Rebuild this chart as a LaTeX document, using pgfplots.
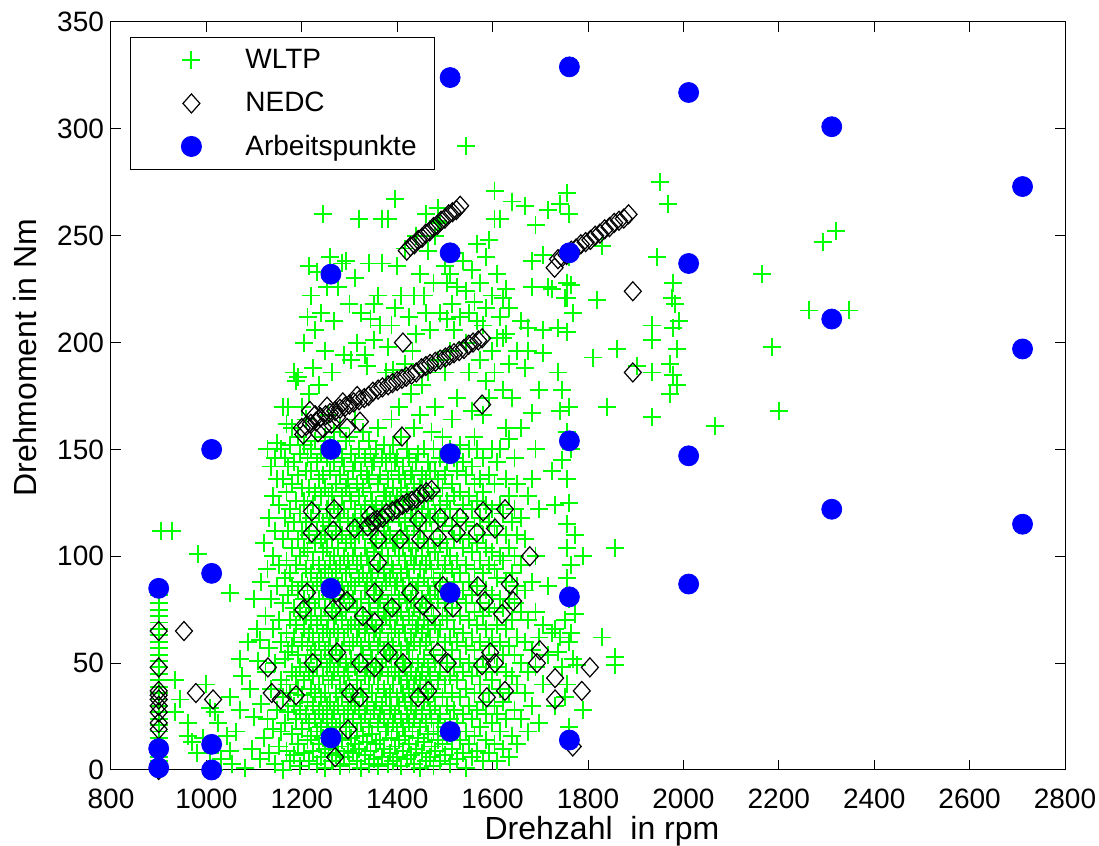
\documentclass[border=0pt]{standalone}
\usepackage{fontspec}
\setmainfont{Liberation Sans}
\usepackage{pgfplots}
\pgfplotsset{compat=1.18}
\definecolor{wgreen}{RGB}{0,255,0}
\definecolor{ablue}{RGB}{0,0,255}
\pgfplotsset{wl/.style={only marks, mark=+, mark size=4.5pt, draw=wgreen, color=wgreen, line width=0.95pt, mark options={draw=wgreen, color=wgreen}},
 wlf/.style={wl, forget plot}}
\begin{document}
\begin{tikzpicture}
\begin{axis}[
 scale only axis, width=477pt, height=374pt,
 xmin=800, xmax=2800, ymin=0, ymax=350,
 xtick={800,1000,...,2800}, ytick={0,50,...,350},
 tick align=inside, major tick length=5pt,
 every tick/.style={black, line width=0.5pt},
 axis line style={line width=0.5pt},
 clip=false,
 /pgf/number format/assume math mode=true,
 /pgf/number format/1000 sep={},
 ticklabel style={font=\fontsize{14}{16}\selectfont},
 xticklabel style={yshift=-6pt},
 xlabel={Drehzahl\ \ in rpm}, ylabel={Drehmoment in Nm},
 label style={font=\fontsize{16}{18}\selectfont},
 xlabel style={at={(axis description cs:0.5147,-0.082)}, anchor=center},
 ylabel style={at={(axis description cs:-0.0901,0.551)}, anchor=center},
 legend style={at={(axis description cs:0.0199,0.98)}, anchor=north west,
   inner xsep=0pt, inner ysep=0.75pt, column sep=0pt, row sep=0pt,
   draw=black, line width=0.5pt, fill=white,
   font=\fontsize{14}{16}\selectfont,
   nodes={inner sep=0pt, text width=94.5pt, align=left, minimum height=21.5pt}},
 legend cell align=left,
 legend image code/.code={\path (0pt,-10pt) (56.5pt,10pt); \draw[#1] plot coordinates {(30pt,0pt)};},
]
\coordinate (SW) at (rel axis cs:0,0);
\coordinate (NE) at (rel axis cs:1,1);
\addplot[wl] coordinates {
(900,0)(900,2)(900,4)(900,6)(900,9)(900,12)(900,15)(900,18)(900,21)(900,24)(900,27)(900,30)(900,33)(900,36)(900,39)(900,42)(900,45)(900,48)(900,51)(900,54)(900,57)(900,60)(900,63)(900,66)(900,69)(900,72)(900,75)(900,78)(900,82)(905,112)(928,112)
(934,42)(934,27)(945,33)(961,22)(961,16)(970,13)(980,8)(982,101)(993,15)(1000,40)(1008,29)(1008,8)(1015,0)(1018,27)(1024,22)(1030,5)(1043,16)(1049,34)(1049,9)(1049,83)(1053,3)(1062,18)(1070,52)(1070,28)(1075,44)(1081,1)(1088,60)(1091,38)(1095,10)(1100,25)(1100,80)(1106,66)(1108,51)
};
\addlegendentry{WLTP}
\addplot[wlf] coordinates {
(1112,5)(1112,61)(1115,31)(1115,88)(1120,15)(1120,106)(1124,46)(1124,72)
(1128,150)(1128,24)(1128,94)(1132,8)(1132,57)(1132,118)(1136,38)(1136,80)(1136,142)
(1140,19)(1140,66)(1140,128)(1140,100)(1144,3)(1144,50)(1144,112)(1144,146)
(1148,28)(1148,86)(1148,136)(1148,153)(1152,11)(1152,70)(1152,96)(1152,124)
(1156,42)(1156,60)(1156,150)(1156,18)
(1160,0)(1160,34)(1160,78)(1160,108)(1160,136)(1160,170)
(1164,22)(1164,52)(1164,90)(1164,118)(1164,146)
(1168,9)(1168,40)(1168,64)(1168,98)(1168,130)(1168,162)
(1172,27)(1172,55)(1172,82)(1172,112)(1172,142)(1172,170)
(1176,4)(1176,36)(1176,70)(1176,92)(1176,122)(1176,152)
(1180,17)(1180,46)(1180,58)(1180,86)(1180,104)(1180,134)(1180,160)
(1184,7)(1184,30)(1184,62)(1184,76)(1184,116)(1184,144)(1184,186)
(1188,24)(1188,44)(1188,68)(1188,96)(1188,126)(1188,182)
};
\addplot[wlf] coordinates {
(1192,12)(1192,38)(1192,54)(1192,84)(1192,108)(1192,138)(1192,156)(1192,184)
(1196,2)(1196,28)(1196,48)(1196,74)(1196,100)(1196,120)(1196,148)
(1200,19)(1200,35)(1200,60)(1200,88)(1200,112)(1200,132)(1200,170)
(1204,8)(1204,42)(1204,66)(1204,80)(1204,104)(1204,126)(1204,152)(1204,200)
(1208,26)(1208,50)(1208,72)(1208,94)(1208,116)(1208,140)(1208,164)
(1212,14)(1212,32)(1212,58)(1212,86)(1212,102)(1212,124)(1212,146)(1212,212)
(1216,4)(1216,22)(1216,46)(1216,64)(1216,78)(1216,110)(1216,132)(1216,176)(1216,236)
(1220,16)(1220,38)(1220,54)(1220,70)(1220,92)(1220,118)(1220,140)(1220,150)(1220,222)
(1224,9)(1224,30)(1224,44)(1224,62)(1224,84)(1224,98)(1224,124)(1224,188)
(1228,24)(1228,36)(1228,56)(1228,76)(1228,106)(1228,130)(1228,154)(1228,206)
(1232,3)(1232,18)(1232,48)(1232,68)(1232,88)(1232,112)(1232,144)(1232,233)
};
\addplot[wlf] coordinates {
(1236,12)(1236,28)(1236,40)(1236,60)(1236,80)(1236,96)(1236,120)(1236,136)(1236,180)
(1240,6)(1240,20)(1240,34)(1240,52)(1240,72)(1240,90)(1240,108)(1240,128)(1240,148)(1240,214)
(1244,15)(1244,26)(1244,44)(1244,64)(1244,84)(1244,102)(1244,116)(1244,138)(1244,260)
(1248,1)(1248,10)(1248,36)(1248,56)(1248,76)(1248,94)(1248,110)(1248,132)(1248,156)(1248,196)
(1252,22)(1252,30)(1252,48)(1252,66)(1252,86)(1252,104)(1252,122)(1252,146)(1252,226)
(1256,8)(1256,18)(1256,40)(1256,58)(1256,70)(1256,92)(1256,114)(1256,128)(1256,166)
(1260,13)(1260,32)(1260,50)(1260,62)(1260,82)(1260,98)(1260,118)(1260,140)(1260,152)(1260,240)
(1264,4)(1264,24)(1264,42)(1264,54)(1264,74)(1264,90)(1264,108)(1264,130)(1264,186)
(1268,16)(1268,28)(1268,46)(1268,66)(1268,80)(1268,100)(1268,124)(1268,144)(1268,158)(1268,210)
(1272,7)(1272,20)(1272,36)(1272,58)(1272,72)(1272,94)(1272,112)(1272,134)
};
\addplot[wlf] coordinates {
(1276,11)(1276,30)(1276,48)(1276,64)(1276,86)(1276,104)(1276,120)(1276,150)(1276,226)
(1280,2)(1280,22)(1280,40)(1280,52)(1280,76)(1280,96)(1280,116)(1280,138)(1280,160)
(1284,14)(1284,34)(1284,56)(1284,70)(1284,88)(1284,110)(1284,128)(1284,146)(1284,237)
(1288,6)(1288,26)(1288,44)(1288,62)(1288,82)(1288,100)(1288,122)(1288,142)(1288,194)
(1292,18)(1292,38)(1292,50)(1292,74)(1292,92)(1292,106)(1292,132)(1292,154)(1292,238)
(1296,9)(1296,28)(1296,46)(1296,66)(1296,84)(1296,98)(1296,118)(1296,136)
(1300,3)(1300,20)(1300,40)(1300,58)(1300,78)(1300,94)(1300,112)(1300,130)(1300,156)(1300,218)
(1304,15)(1304,32)(1304,52)(1304,68)(1304,88)(1304,108)(1304,126)(1304,148)(1304,192)
(1308,8)(1308,24)(1308,36)(1308,60)(1308,80)(1308,100)(1308,116)(1308,140)
(1312,12)(1312,30)(1312,48)(1312,70)(1312,86)(1312,104)(1312,122)(1312,144)(1312,164)(1312,230)
};
\addplot[wlf] coordinates {
(1316,4)(1316,18)(1316,42)(1316,62)(1316,76)(1316,96)(1316,114)(1316,134)(1316,200)
(1320,10)(1320,28)(1320,50)(1320,66)(1320,90)(1320,110)(1320,128)(1320,150)(1320,258)
(1324,1)(1324,22)(1324,38)(1324,58)(1324,80)(1324,98)(1324,120)(1324,140)(1324,214)
(1328,16)(1328,34)(1328,54)(1328,72)(1328,92)(1328,112)(1328,132)(1328,158)
(1332,7)(1332,26)(1332,44)(1332,64)(1332,84)(1332,104)(1332,124)(1332,146)(1332,194)
(1336,13)(1336,30)(1336,48)(1336,68)(1336,88)(1336,100)(1336,118)(1336,138)(1336,189)
(1340,3)(1340,20)(1340,40)(1340,60)(1340,78)(1340,96)(1340,116)(1340,136)(1340,154)(1340,237)
(1344,9)(1344,24)(1344,46)(1344,56)(1344,74)(1344,92)(1344,110)(1344,130)(1344,148)(1344,211)
(1348,17)(1348,36)(1348,52)(1348,70)(1348,90)(1348,108)(1348,126)(1348,142)
(1352,5)(1352,28)(1352,44)(1352,64)(1352,82)(1352,102)(1352,120)(1352,144)(1352,201)(1352,218)
};
\addplot[wlf] coordinates {
(1356,12)(1356,32)(1356,50)(1356,66)(1356,86)(1356,106)(1356,124)(1356,150)
(1360,2)(1360,22)(1360,40)(1360,58)(1360,76)(1360,94)(1360,114)(1360,134)(1360,160)(1360,222)
(1364,14)(1364,26)(1364,46)(1364,62)(1364,80)(1364,98)(1364,118)(1364,138)(1364,208)
(1368,6)(1368,30)(1368,48)(1368,68)(1368,84)(1368,104)(1368,122)(1368,146)(1368,237)(1368,258)
(1372,10)(1372,24)(1372,38)(1372,56)(1372,74)(1372,92)(1372,112)(1372,130)(1372,152)
(1376,18)(1376,34)(1376,52)(1376,72)(1376,88)(1376,108)(1376,128)(1376,144)(1376,186)
(1380,3)(1380,20)(1380,44)(1380,60)(1380,78)(1380,100)(1380,116)(1380,136)(1380,198)(1380,258)
(1384,8)(1384,28)(1384,36)(1384,54)(1384,70)(1384,90)(1384,110)(1384,126)(1384,148)
(1388,15)(1388,30)(1388,48)(1388,64)(1388,82)(1388,96)(1388,120)(1388,140)(1388,164)(1388,208)
(1392,4)(1392,22)(1392,40)(1392,58)(1392,76)(1392,94)(1392,106)(1392,132)(1392,152)(1392,187)
};
\addplot[wlf] coordinates {
(1396,11)(1396,26)(1396,46)(1396,66)(1396,86)(1396,104)(1396,124)(1396,144)(1396,216)(1396,267)
(1400,6)(1400,18)(1400,34)(1400,52)(1400,72)(1400,88)(1400,108)(1400,128)(1400,146)(1400,236)
(1404,14)(1404,30)(1404,44)(1404,62)(1404,80)(1404,100)(1404,118)(1404,138)(1404,170)
(1408,2)(1408,24)(1408,40)(1408,56)(1408,74)(1408,92)(1408,112)(1408,132)(1408,156)(1408,222)
(1412,9)(1412,20)(1412,36)(1412,50)(1412,68)(1412,86)(1412,104)(1412,124)(1412,142)
(1416,16)(1416,32)(1416,48)(1416,64)(1416,82)(1416,98)(1416,116)(1416,136)(1416,190)(1416,244)
(1420,5)(1420,26)(1420,42)(1420,58)(1420,78)(1420,94)(1420,110)(1420,130)(1420,150)
(1424,12)(1424,22)(1424,38)(1424,56)(1424,72)(1424,90)(1424,106)(1424,126)(1424,146)(1424,212)
(1428,7)(1428,30)(1428,46)(1428,62)(1428,80)(1428,100)(1428,120)(1428,138)(1428,176)
(1432,18)(1432,34)(1432,52)(1432,70)(1432,86)(1432,104)(1432,122)(1432,140)(1432,196)
};
\addplot[wlf] coordinates {
(1436,3)(1436,24)(1436,40)(1436,60)(1436,76)(1436,96)(1436,114)(1436,134)(1436,160)(1436,222)
(1440,10)(1440,28)(1440,44)(1440,66)(1440,84)(1440,100)(1440,118)(1440,144)(1440,204)(1440,250)
(1444,15)(1444,36)(1444,50)(1444,68)(1444,88)(1444,106)(1444,126)(1444,148)
(1448,1)(1448,20)(1448,42)(1448,58)(1448,74)(1448,94)(1448,112)(1448,132)(1448,166)(1448,232)
(1452,8)(1452,26)(1452,46)(1452,64)(1452,80)(1452,100)(1452,120)(1452,138)(1452,180)
(1456,13)(1456,32)(1456,52)(1456,70)(1456,90)(1456,108)(1456,126)(1456,150)(1456,222)
(1460,4)(1460,22)(1460,40)(1460,60)(1460,78)(1460,96)(1460,116)(1460,136)(1460,214)(1460,260)
(1464,17)(1464,34)(1464,48)(1464,66)(1464,86)(1464,104)(1464,122)(1464,144)(1464,186)(1464,243)
(1468,6)(1468,28)(1468,44)(1468,62)(1468,82)(1468,98)(1468,118)(1468,140)(1468,206)
(1472,11)(1472,24)(1472,38)(1472,56)(1472,76)(1472,94)(1472,112)(1472,130)(1472,158)
};
\addplot[wlf] coordinates {
(1476,2)(1476,18)(1476,36)(1476,54)(1476,72)(1476,90)(1476,108)(1476,128)(1476,150)(1476,228)
(1480,9)(1480,30)(1480,50)(1480,68)(1480,84)(1480,102)(1480,120)(1480,140)(1480,170)(1480,250)
(1485,14)(1485,22)(1485,42)(1485,62)(1485,80)(1485,98)(1485,116)(1485,136)(1485,192)(1485,263)(1485,257)
(1490,4)(1490,26)(1490,46)(1490,66)(1490,88)(1490,106)(1490,124)(1490,146)(1490,214)(1490,256)
(1495,12)(1495,34)(1495,54)(1495,72)(1495,92)(1495,112)(1495,132)(1495,156)
(1500,7)(1500,20)(1500,40)(1500,60)(1500,78)(1500,96)(1500,118)(1500,138)(1500,186)(1500,236)
(1505,16)(1505,30)(1505,50)(1505,70)(1505,86)(1505,104)(1505,126)(1505,144)(1505,211)(1505,228)
(1510,3)(1510,24)(1510,44)(1510,62)(1510,82)(1510,100)(1510,122)(1510,150)(1510,196)(1510,232)
(1515,10)(1515,36)(1515,56)(1515,76)(1515,94)(1515,114)(1515,134)(1515,164)(1515,218)
(1520,18)(1520,28)(1520,48)(1520,66)(1520,88)(1520,108)(1520,128)(1520,146)(1520,206)(1520,242)
};
\addplot[wlf] coordinates {
(1526,5)(1526,22)(1526,42)(1526,60)(1526,80)(1526,98)(1526,118)(1526,140)(1526,174)(1526,226)
(1532,14)(1532,34)(1532,52)(1532,72)(1532,92)(1532,110)(1532,130)(1532,152)(1532,212)
(1538,8)(1538,26)(1538,46)(1538,64)(1538,84)(1538,104)(1538,124)(1538,144)(1538,238)
(1544,1)(1544,18)(1544,38)(1544,58)(1544,78)(1544,96)(1544,116)(1544,138)(1544,200)(1544,224)(1544,292)
(1550,12)(1550,30)(1550,50)(1550,70)(1550,88)(1550,108)(1550,128)(1550,150)(1550,186)(1550,214)
(1556,6)(1556,24)(1556,44)(1556,62)(1556,82)(1556,102)(1556,122)(1556,142)(1556,168)(1556,234)
(1562,16)(1562,36)(1562,56)(1562,74)(1562,94)(1562,114)(1562,134)(1562,156)(1562,219)
(1568,9)(1568,28)(1568,48)(1568,68)(1568,86)(1568,106)(1568,126)(1568,150)(1568,210)(1568,246)
(1574,20)(1574,40)(1574,60)(1574,78)(1574,98)(1574,118)(1574,136)(1574,192)(1574,228)
(1580,4)(1580,32)(1580,52)(1580,72)(1580,92)(1580,110)(1580,130)(1580,146)(1580,166)(1580,208)
};
\addplot[wlf] coordinates {
(1586,14)(1586,26)(1586,46)(1586,66)(1586,84)(1586,104)(1586,124)(1586,182)(1586,216)(1586,240)
(1592,8)(1592,36)(1592,58)(1592,76)(1592,96)(1592,116)(1592,138)(1592,174)(1592,248)
(1598,22)(1598,42)(1598,62)(1598,82)(1598,102)(1598,122)(1598,150)(1598,196)(1598,222)
(1604,12)(1604,30)(1604,54)(1604,74)(1604,94)(1604,114)(1604,134)(1604,186)(1604,258)(1604,271)
(1610,4)(1610,26)(1610,48)(1610,68)(1610,90)(1610,110)(1610,144)(1610,202)(1610,232)
(1616,18)(1616,38)(1616,60)(1616,80)(1616,100)(1616,124)(1616,150)(1616,212)(1616,258)
(1622,10)(1622,32)(1622,54)(1622,76)(1622,98)(1622,120)(1622,178)(1622,202)(1622,221)
(1628,24)(1628,46)(1628,66)(1628,88)(1628,110)(1628,136)(1628,160)(1628,204)(1628,225)
(1634,6)(1634,36)(1634,58)(1634,80)(1634,104)(1634,128)(1634,155)(1634,190)(1634,216)
(1640,16)(1640,44)(1640,70)(1640,92)(1640,116)(1640,174)(1640,266)
};
\addplot[wlf] coordinates {
(1646,28)(1646,54)(1646,78)(1646,100)(1646,122)(1646,146)
(1652,12)(1652,40)(1652,62)(1652,86)(1652,110)(1652,134)(1652,196)
(1660,24)(1660,50)(1660,74)(1660,96)(1660,118)(1660,160)(1660,210)
(1668,36)(1668,60)(1668,84)(1668,108)(1668,188)(1668,264)
(1674,18)(1674,46)(1674,70)(1674,128)(1674,196)(1674,207)
(1682,30)(1682,56)(1682,88)(1682,136)(1682,167)(1682,226)(1682,238)
(1690,48)(1690,74)(1690,100)(1690,150)(1690,255)
(1698,22)(1698,62)(1698,122)(1698,178)
(1706,40)(1706,68)(1706,195)(1706,206)(1706,241)
(1716,54)(1716,86)(1716,226)(1716,262)
(1724,64)(1724,140)(1724,225)
(1731,30)(1731,66)(1731,124)
(1737,55)(1737,186)(1737,207)
(1741,62)(1741,168)(1741,265)
(1745,48)(1745,145)(1745,178)
(1752,34)(1752,70)(1752,221)
(1756,40)(1756,90)(1756,104)(1756,115)(1756,136)(1756,158)(1756,205)(1756,221)(1756,228)(1756,270)
(1760,20)(1760,60)(1760,80)(1760,125)(1760,170)(1760,240)(1760,260)
(1764,64)(1764,96)(1764,150)(1764,227)
(1768,52)(1768,214)
(1773,73)(1773,110)
(1777,49)(1790,28)(1790,100)
(1810,193)(1819,220)(1829,62)(1829,245)(1840,170)(1856,104)(1856,53)(1856,49)(1861,197)(1903,189)(1934,208)(1934,201)(1934,186)(1934,165)(1945,240)(1951,275)(1968,265)(1972,190)(1972,176)(1976,221)(1978,228)(1978,207)(1978,185)(1982,218)(1986,197)(1986,180)(1990,210)(2066,161)(2165,232)(2186,198)(2200,168)(2263,215)(2292,247)(2320,252)(2347,215)
};
\addplot[only marks, mark=diamond, mark size=4.75pt, color=black, line width=0.6pt, mark options={xscale=1.19}] coordinates {
(900,65)(900,48)(900,37)(900,35)(900,33)(900,30)(900,27)(900,22)(900,19)(900,0)
(953,65)(978,36)(1014,33)(1129,48)(1137,36)(1156,33)(1188,35)(1203,75)(1211,83)(1223,50)(1221,121)(1221,111)
(1265,75)(1268,122)(1266,112)(1272,83)(1295,79)(1311,113)(1328,72)(1353,83)(1353,69)(1389,76)(1427,83)(1454,77)(1473,73)(1496,86)(1517,76)(1569,86)(1584,79)(1620,73)(1636,87)(1643,79)
(1274,55)(1322,50)(1353,48)(1381,55)(1412,50)(1485,55)(1506,50)(1578,49)(1595,55)(1605,50)
(1301,36)(1322,34)(1444,34)(1465,37)(1588,34)(1626,37)(1297,19)(1270,6)
(1678,100)(1699,56)(1693,50)(1731,43)(1731,33)(1787,37)(1804,48)(1768,11)
(1410,156)(1412,200)(1578,171)(1894,224)(1894,186)
(1343,119)(1360,108)(1360,97)(1406,108)(1444,117)(1448,108)(1490,118)(1485,109)(1532,118)(1525,111)(1580,121)(1567,111)(1605,113)(1626,122)
(1338,114)(1349,116)(1358,117)(1369,118)(1378,120)(1390,121)(1399,122)(1411,124)(1420,125)(1431,126)(1441,127)(1450,129)(1461,130)(1472,131)
(1200,160)(1209,161)(1219,162)(1230,163)(1239,165)(1250,166)(1259,167)(1270,168)(1280,169)(1291,170)(1300,171)(1309,172)(1320,173)(1331,174)(1340,175)(1349,177)(1360,178)(1369,179)(1381,180)(1390,181)(1400,182)(1410,183)(1419,184)(1430,185)(1440,186)(1451,188)(1460,189)(1469,190)(1480,191)(1490,192)(1501,193)(1510,194)(1519,195)(1530,196)(1540,197)(1550,199)(1559,200)(1570,201)(1578,202)
(1203,157)(1217,168)(1234,158)(1253,170)(1286,172)(1316,175)(1295,160)(1322,163)(1274,165)(1245,160)(1262,162)(1228,166)
(1420,243)(1428,245)(1436,246)(1444,248)(1452,249)(1460,251)(1468,252)(1476,254)(1484,255)(1492,257)(1500,258)(1508,260)(1516,261)(1524,262)(1532,264)
(1730,235)(1737,239)(1746,240)(1755,241)(1765,243)(1775,244)(1785,246)(1795,247)(1805,248)(1815,250)(1825,251)(1835,253)(1845,254)(1855,256)(1865,257)(1875,258)(1885,260)
};
\addlegendentry{NEDC}
\addplot[only marks, mark=*, mark size=5pt, color=ablue, mark options={draw=ablue, fill=ablue}] coordinates {
(900,85)(900,10)(900,1)(1011,150)(1011,92)(1011,12)(1011,0)(1261,232)(1261,150)(1261,85)(1261,15)(1511,324)(1511,242)(1511,148)(1511,83)(1511,18)(1761,329)(1761,242)(1761,154)(1761,81)(1761,14)(2011,317)(2011,237)(2011,147)(2011,87)(2311,301)(2311,211)(2311,122)(2711,273)(2711,197)(2711,115)
};
\addlegendentry{Arbeitspunkte}
\end{axis}
\pgfresetboundingbox
\path ([shift={(-55.5pt,-38pt)}]SW) rectangle ([shift={(17pt,11pt)}]NE);
\end{tikzpicture}
\end{document}
